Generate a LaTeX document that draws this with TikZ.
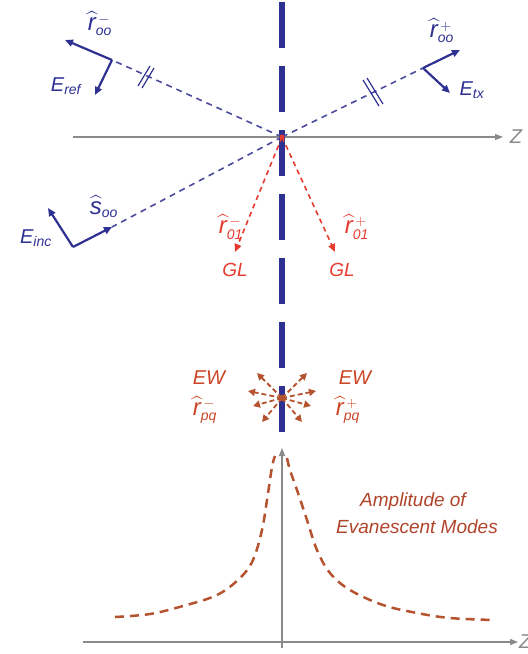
\documentclass[tikz,border=0pt]{standalone}
\usepackage{amsmath}
\usepackage{fontspec}
\setmainfont{Liberation Sans}
\usetikzlibrary{arrows.meta,calc}
\definecolor{navy}{HTML}{2E3192}
\definecolor{dblue}{HTML}{4B4B9E}
\definecolor{redgl}{HTML}{E63B2E}
\definecolor{ewred}{HTML}{CC4526}
\definecolor{brownc}{HTML}{B5532E}
\definecolor{amptxt}{HTML}{B0442A}
\definecolor{axgray}{HTML}{8A8A8A}
\newcommand{\myRr}{\text{\fontsize{24}{24}\selectfont\itshape r}}
\newcommand{\mySs}{\text{\fontsize{24}{24}\selectfont\itshape s}}
\newcommand{\hr}[2]{$\widehat{\myRr}{\vphantom{\myRr}}^{\,#2}_{\text{\itshape #1}}$}
\newcommand{\Ev}[1]{$\text{\itshape E}_{\text{\itshape #1}}$}
\begin{document}
\begin{tikzpicture}[x=1pt,y=-1pt,
  every node/.style={font=\fontsize{20}{22}\selectfont\itshape, inner sep=0pt},
  vec/.style={navy, line width=2.2pt, -{Triangle[length=8pt,width=7pt]}},
  ray/.style={dblue, line width=1.6pt, dash pattern=on 6pt off 5pt},
  slash/.style={navy, line width=1.2pt},
  glray/.style={redgl, line width=1.6pt, dash pattern=on 5pt off 4pt, -{Triangle[length=8pt,width=7pt]}},
  ewray/.style={brownc, line width=1.8pt, dash pattern=on 5pt off 3pt, -{Triangle[length=7pt,width=7pt]}},
  axis/.style={axgray, line width=1.2pt, -{Triangle[length=8pt,width=6pt]}},
  curve/.style={brownc, line width=2.5pt, dash pattern=on 9pt off 6pt},
  blab/.style={text=navy},
  rlab/.style={text=redgl},
  ewlab/.style={text=ewred},
  zlab/.style={text=axgray}]
\useasboundingbox (0,0) rectangle (528,654);

% top axis
\coordinate (axL) at (73,137);
\coordinate (axR) at (503,137);
\draw[axis] (axL) -- (axR);
\node[zlab] (z1) at (516,137) {Z};

% interface
\draw[navy, line width=6pt, dash pattern=on 46pt off 18pt] (282,2) -- (282,432);

\coordinate (O) at (282,137);
% reflected
\coordinate (A1) at (112,60);
\coordinate (r1) at (65,40);
\coordinate (e1) at (95,95);
\draw[ray] (O) -- (A1);
\draw[vec] (A1) -- (r1);
\draw[vec] (A1) -- (e1);
\draw[slash] (138,86) -- (150,66);
\draw[slash] (142,88) -- (154,68);
\node[blab] (lr1) at (100,24) {\hr{oo}{-}};
\node[blab] (le1) at (66,86) {\Ev{ref}};
% transmitted
\coordinate (A2) at (423,68);
\coordinate (r2) at (460,50);
\coordinate (e2) at (450,93);
\draw[ray] (O) -- (A2);
\draw[vec] (A2) -- (r2);
\draw[vec] (A2) -- (e2);
\draw[slash] (363,80) -- (379,106);
\draw[slash] (367,78) -- (383,104);
\node[blab] (lr2) at (442,31) {\hr{oo}{+}};
\node[blab] (le2) at (472,90) {\Ev{tx}};
% incident
\coordinate (A3) at (73,247);
\coordinate (s3) at (112,227);
\coordinate (e3) at (48,208);
\draw[ray] (O) -- (s3);
\draw[vec] (A3) -- (s3);
\draw[vec] (A3) -- (e3);
\node[blab] (ls3) at (104,207) {$\widehat{\mySs}{\vphantom{\mySs}}_{\text{\itshape oo}}$};
\node[blab] (le3) at (36,238) {\Ev{inc}};

% GL rays
\coordinate (g1) at (235,252);
\coordinate (g2) at (335,252);
\draw[glray] (O) -- (g1);
\draw[glray] (O) -- (g2);
\fill[redgl] (O) circle (2.5pt);
\node[rlab] (lg1r) at (231,227) {\hr{01}{-}};
\node[rlab, font=\fontsize{19}{22}\selectfont\itshape] (lg1) at (235,270) {GL};
\node[rlab] (lg2r) at (357,227) {\hr{01}{+}};
\node[rlab, font=\fontsize{19}{22}\selectfont\itshape] (lg2) at (342,270) {GL};

% EW
\coordinate (C) at (282,398);
\foreach \dx/\dy [count=\i] in {25/-25, 34/-7, 29/8, 20/24}{
  \coordinate (ewl\i) at ($(C)+(-\dx,\dy)$);
  \coordinate (ewr\i) at ($(C)+(\dx,\dy)$);
  \draw[ewray] (C) -- (ewl\i);
  \draw[ewray] (C) -- (ewr\i);
}
\fill[brownc] (C) circle (3pt);
\node[ewlab] (lew1) at (209,378) {EW};
\node[ewlab] (lew1r) at (205,410) {\hr{pq}{-}};
\node[ewlab] (lew2) at (355,378) {EW};
\node[ewlab] (lew2r) at (348,410) {\hr{pq}{+}};

% lower axes
\coordinate (vb) at (282,648);
\coordinate (vt) at (282,448);
\draw[axis] (vb) -- (vt);
\coordinate (hL) at (83,642);
\coordinate (hR) at (518,642);
\draw[axis] (hL) -- (hR);
\node[zlab, anchor=west] (z2) at (519,642) {Z};

% amplitude curve
\draw[curve] plot[smooth, tension=0.6] coordinates {(115,617) (150,614) (183,606) (217,595) (240,578) (253,560) (262,530) (267,500) (272,467) (275,456)};
\draw[curve] plot[smooth, tension=0.6] coordinates {(287,458) (290,470) (298,493) (307,520) (317,550) (330,573) (350,590) (383,605) (417,613) (450,618) (493,620)};

\node[text=amptxt, font=\fontsize{19}{22}\selectfont\itshape] (amp1) at (413,502) {Amplitude of};
\node[text=amptxt, font=\fontsize{19}{22}\selectfont\itshape] (amp2) at (417,527) {Evanescent Modes};
\end{tikzpicture}
\end{document}
